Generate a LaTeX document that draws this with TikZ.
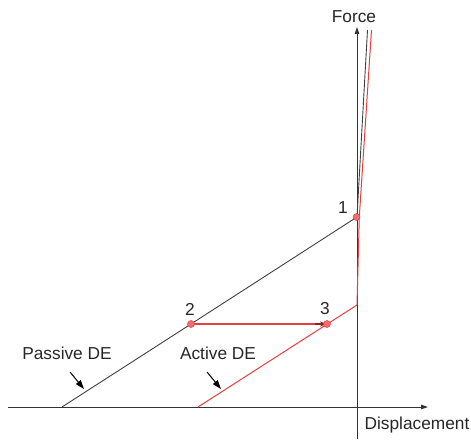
\documentclass[tikz,border=0pt]{standalone}
\usepackage{fontspec}
\setmainfont{Liberation Sans}
\usetikzlibrary{arrows.meta}
\definecolor{lred}{RGB}{228,62,62}
\definecolor{dotred}{RGB}{240,110,110}
\definecolor{tipred}{RGB}{150,30,30}
\begin{document}
\begin{tikzpicture}[x=1pt,y=-1pt,
  lbl/.style={font=\fontsize{17.3}{20}\selectfont, text=black!85, inner sep=0pt},
  axis/.style={draw=black!80, line width=0.9pt, -{Triangle[length=7pt,width=4.5pt]}},
  bl/.style={draw=black!75, line width=0.9pt},
  rl/.style={draw=lred, line width=1pt},
  hl/.style={draw=lred, line width=1.6pt},
  ptr/.style={draw=black, line width=1pt, -{Triangle[length=9pt,width=6pt]}},
  pt/.style={circle, fill=dotred, draw=lred, line width=0.5pt, minimum size=7pt, inner sep=0pt}]
\useasboundingbox (0,0) rectangle (471,441);
% axes
\coordinate (xl) at (8,407);
\coordinate (xr) at (428,407);
\coordinate (yb) at (357,439);
\coordinate (yt) at (357,27);
\draw[axis] (xl) -- (xr);
\draw[axis] (yb) -- (yt);
\node[lbl] (force) at (354,17) {Force};
\node[lbl] (disp) at (417,425) {Displacement};
% passive (black) curve
\coordinate (p0) at (62,407);
\coordinate (bt) at (367.5,30);
% active (red) curve
\coordinate (r0) at (198,407);
\coordinate (rk) at (357,305);
\coordinate (rm) at (359.3,217);
\coordinate (rt) at (371.5,30);
\coordinate (c2) at (191,324);
\coordinate (c3) at (327,324);
\coordinate (p3a) at (315,324);
\draw[bl] (p0) -- (c2) -- (357,217) -- (bt);
\draw[rl] (r0) -- (rk) -- (rm) -- (rt);
\draw[hl] (c2) -- (c3);
\draw[draw=tipred, fill=tipred, line width=1.2pt, -{Stealth[length=7pt,width=5pt]}] (p3a) -- (c3);
\node[pt] (p1) at (356.5,217) {};
\node[pt] (p2) at (c2) {};
\node[pt] (p3) at (c3) {};
% point labels
\node[lbl] (l1) at (343,208) {1};
\node[lbl] (l2) at (190,309) {2};
\node[lbl] (l3) at (325,309) {3};
% DE labels
\node[lbl] (pas) at (67,353) {Passive DE};
\node[lbl] (act) at (218,353) {Active DE};
\coordinate (pa1) at (70,372);
\coordinate (pa2) at (84,389);
\coordinate (aa1) at (207,372);
\coordinate (aa2) at (221,389);
\draw[ptr] (pa1) -- (pa2);
\draw[ptr] (aa1) -- (aa2);
\end{tikzpicture}
\end{document}
